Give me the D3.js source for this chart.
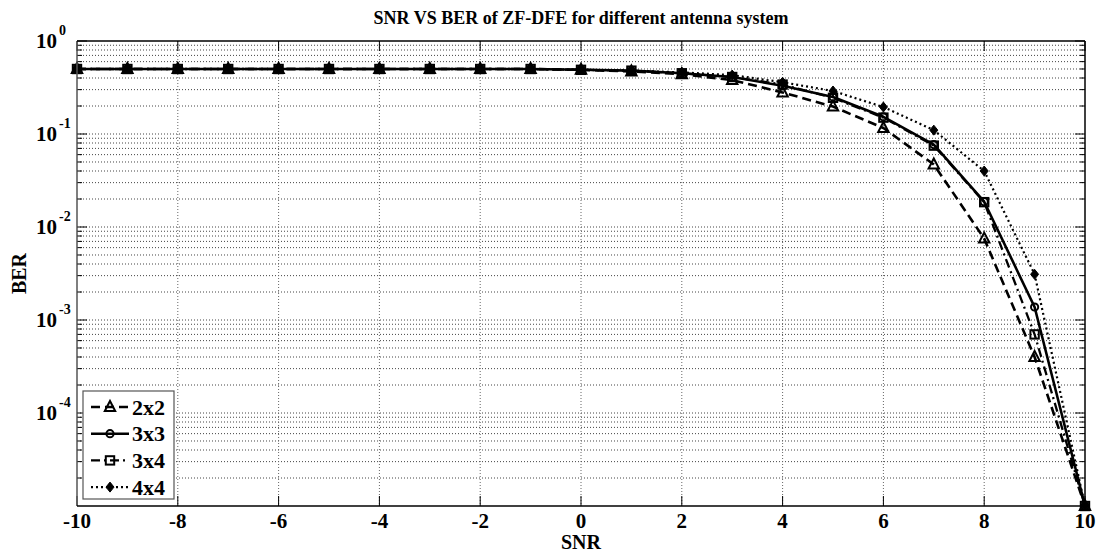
<!DOCTYPE html>
<html><head><meta charset="utf-8">
<script src="https://cdn.jsdelivr.net/npm/d3@7"></script>
<style>
html,body{margin:0;padding:0;background:#fff;}
svg{display:block;}
text{font-family:"Liberation Serif","DejaVu Serif",serif;font-weight:bold;fill:#000;}
</style></head>
<body>
<svg id="chart" width="1104" height="554"></svg>
<script>
const snr = [-10,-9,-8,-7,-6,-5,-4,-3,-2,-1,0,1,2,3,4,5,6,7,8,9,10];
const ber2x2 = [0.5,0.5,0.5,0.5,0.5,0.5,0.5,0.5,0.5,0.5,0.49,0.47,0.44,0.38,0.28,0.197,0.116,0.047,0.0075,0.0004,0.00001];
const ber3x3 = [0.5,0.5,0.5,0.5,0.5,0.5,0.5,0.5,0.5,0.5,0.49,0.48,0.45,0.41,0.33,0.25,0.153,0.077,0.0187,0.00138,0.00001];
const ber3x4 = [0.5,0.5,0.5,0.5,0.5,0.5,0.5,0.5,0.5,0.5,0.49,0.48,0.45,0.41,0.34,0.245,0.15,0.075,0.0185,0.0007,0.00001];
const ber4x4 = [0.5,0.5,0.5,0.5,0.5,0.5,0.5,0.5,0.5,0.5,0.49,0.48,0.46,0.43,0.36,0.29,0.195,0.11,0.04,0.0031,0.00001];
const seriesNames = ["2x2","3x3","3x4","4x4"];
const xTicks = [-10,-8,-6,-4,-2,0,2,4,6,8,10];
const yMajorTicks = [1,0.1,0.01,0.001,0.0001];
const yTickExp = ["0","-1","-2","-3","-4"];

const svg = d3.select("#chart");
const L=77, R=1085, T=41, B=506;
const x = d3.scaleLinear().domain([-10,10]).range([L,R]);
const y = d3.scaleLog().domain([1e-5,1]).range([B,T]);

const yMinor = [];
for (let e=-5;e<0;e++) for (let m=2;m<=9;m++) yMinor.push(m*Math.pow(10,e));
const yAllGrid = yMinor.concat([0.1,0.01,0.001,0.0001]);

const g = svg.append("g");
g.selectAll(".hg").data(yAllGrid).join("line")
  .attr("x1",L).attr("x2",R).attr("y1",d=>y(d)).attr("y2",d=>y(d))
  .attr("stroke","#444").attr("stroke-width",1).attr("stroke-dasharray","1,2");
g.selectAll(".vg").data(xTicks.slice(1,-1)).join("line")
  .attr("x1",d=>x(d)).attr("x2",d=>x(d)).attr("y1",T).attr("y2",B)
  .attr("stroke","#666").attr("stroke-width",1).attr("stroke-dasharray","1,2");

const tk = svg.append("g").attr("stroke","#000").attr("stroke-width",1);
xTicks.forEach(d=>{
  tk.append("line").attr("x1",x(d)).attr("x2",x(d)).attr("y1",B).attr("y2",B-10);
  tk.append("line").attr("x1",x(d)).attr("x2",x(d)).attr("y1",T).attr("y2",T+10);
});
yMajorTicks.forEach(d=>{
  tk.append("line").attr("x1",L).attr("x2",L+10).attr("y1",y(d)).attr("y2",y(d));
  tk.append("line").attr("x1",R).attr("x2",R-10).attr("y1",y(d)).attr("y2",y(d));
});
yMinor.forEach(d=>{
  tk.append("line").attr("x1",L).attr("x2",L+5).attr("y1",y(d)).attr("y2",y(d));
  tk.append("line").attr("x1",R).attr("x2",R-5).attr("y1",y(d)).attr("y2",y(d));
});

const lineGen = d3.line().x(d=>x(d[0])).y(d=>y(d[1]));
const series = [
  {name:seriesNames[0], vals:ber2x2, dash:"9,5", w:2.6, marker:"tri"},
  {name:seriesNames[1], vals:ber3x3, dash:null, w:2.6, marker:"circ"},
  {name:seriesNames[2], vals:ber3x4, dash:"9,4,2,4", w:2.3, marker:"sq"},
  {name:seriesNames[3], vals:ber4x4, dash:"2,3", w:2.2, marker:"dia"}
];
function drawMarker(sel, type, cx, cy){
  if (type==="tri") {
    sel.append("path").attr("d",`M${cx},${cy-6} L${cx+5.2},${cy+4} L${cx-5.2},${cy+4} Z`)
      .attr("fill","none").attr("stroke","#000").attr("stroke-width",2);
  } else if (type==="circ") {
    sel.append("circle").attr("cx",cx).attr("cy",cy).attr("r",3.6)
      .attr("fill","none").attr("stroke","#000").attr("stroke-width",2);
  } else if (type==="sq") {
    sel.append("rect").attr("x",cx-4.2).attr("y",cy-4.2).attr("width",8.4).attr("height",8.4)
      .attr("fill","none").attr("stroke","#000").attr("stroke-width",2);
  } else {
    sel.append("path").attr("d",`M${cx},${cy-5} L${cx+4},${cy} L${cx},${cy+5} L${cx-4},${cy} Z`)
      .attr("fill","#000").attr("stroke","#000").attr("stroke-width",1);
  }
}
const plot = svg.append("g");
series.forEach(s=>{
  const pts = snr.map((v,i)=>[v,s.vals[i]]);
  const p = plot.append("path").datum(pts).attr("d",lineGen)
    .attr("fill","none").attr("stroke","#000").attr("stroke-width",s.w)
    .attr("stroke-linejoin","round");
  if (s.dash) p.attr("stroke-dasharray",s.dash);
  const mg = plot.append("g");
  pts.forEach(d=>drawMarker(mg, s.marker, x(d[0]), y(d[1])));
});

svg.append("line").attr("x1",L).attr("x2",L).attr("y1",T).attr("y2",B).attr("stroke","#555").attr("stroke-width",1.5);
svg.append("line").attr("x1",L).attr("x2",R).attr("y1",B).attr("y2",B).attr("stroke","#000").attr("stroke-width",1.5);
svg.append("line").attr("x1",R).attr("x2",R).attr("y1",T).attr("y2",B).attr("stroke","#000").attr("stroke-width",1.5);
svg.append("line").attr("x1",L).attr("x2",R).attr("y1",T).attr("y2",T).attr("stroke","#000").attr("stroke-width",1.5);

svg.append("g").selectAll("text").data(xTicks).join("text")
  .attr("x",d=>x(d)).attr("y",528).attr("text-anchor","middle")
  .attr("font-size",21).text(d=>d);

const yl = svg.append("g");
yMajorTicks.forEach((d,i)=>{
  yl.append("text").attr("x",57).attr("y",y(d)+7).attr("text-anchor","end")
    .attr("font-size",21).text("10");
  yl.append("text").attr("x",59).attr("y",y(d)-6).attr("text-anchor","start")
    .attr("font-size",14).text(yTickExp[i]);
});

svg.append("text").attr("x",(L+R)/2).attr("y",24).attr("text-anchor","middle")
  .attr("font-size",18).text("SNR VS BER of ZF-DFE for different antenna system");
svg.append("text").attr("x",(L+R)/2).attr("y",549).attr("text-anchor","middle")
  .attr("font-size",20).text("SNR");
svg.append("text").attr("transform",`translate(26,${(T+B)/2}) rotate(-90)`)
  .attr("text-anchor","middle").attr("font-size",20).text("BER");

const lg = svg.append("g");
lg.append("rect").attr("x",83).attr("y",391).attr("width",91).attr("height",108)
  .attr("fill","#fff").attr("stroke","#555").attr("stroke-width",1.2);
series.forEach((s,i)=>{
  const cy = 407 + i*26.7;
  const l = lg.append("line").attr("x1",91).attr("x2",129).attr("y1",cy).attr("y2",cy)
    .attr("stroke","#000").attr("stroke-width",s.w);
  if (s.dash) l.attr("stroke-dasharray",s.dash);
  drawMarker(lg, s.marker, 110, cy);
  lg.append("text").attr("x",132).attr("y",cy+7.5).attr("font-size",22).text(s.name);
});
</script>
</body></html>
